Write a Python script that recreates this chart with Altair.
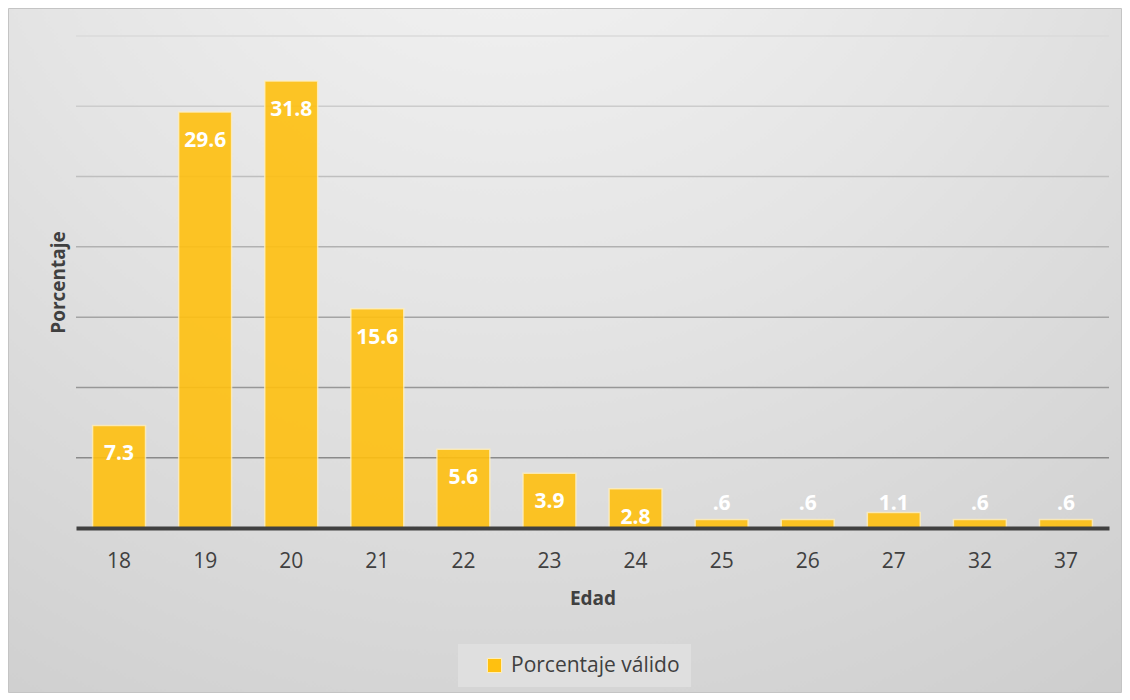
import altair as alt
import pandas as pd

# ---- data ----
edades = ["18", "19", "20", "21", "22", "23", "24", "25", "26", "27", "32", "37"]
porcentajes = [7.3, 29.6, 31.8, 15.6, 5.6, 3.9, 2.8, 0.6, 0.6, 1.1, 0.6, 0.6]
etiquetas = ["7.3", "29.6", "31.8", "15.6", "5.6", "3.9", "2.8", ".6", ".6", "1.1", ".6", ".6"]
serie = "Porcentaje válido"
grid_values = [5, 10, 15, 20, 25, 30, 35]

df = pd.DataFrame({"edad": edades, "pct": porcentajes, "etiqueta": etiquetas})
grid_df = pd.DataFrame({"v": grid_values})

W, H = 1033, 492
PAD_L, PAD_T, PAD_R, PAD_B = 68, 28, 13, 165
FONT = "Open Sans"
TXT = "#404040"

y_scale = alt.Scale(domain=[0, 35], nice=False)

background = alt.Chart(pd.DataFrame({"a": [0]})).mark_rect(
    fill={
        "gradient": "radial",
        "x1": 0.45, "y1": 0.0, "r1": 0.0,
        "x2": 0.45, "y2": 0.0, "r2": 1.05,
        "stops": [
            {"offset": 0.0, "color": "#f6f6f6"},
            {"offset": 0.45, "color": "#e4e4e4"},
            {"offset": 1.0, "color": "#cacaca"},
        ],
    },
    stroke="#c4c4c4",
    strokeWidth=1,
).encode(
    x=alt.value(-PAD_L + 0.5),
    x2=alt.value(W + PAD_R - 0.5),
    y=alt.value(-PAD_T + 0.5),
    y2=alt.value(H + PAD_B - 0.5),
)

grid = alt.Chart(grid_df).mark_rule(strokeWidth=1.5).encode(
    x=alt.value(0),
    x2=alt.value(W),
    y=alt.Y("v:Q", scale=y_scale),
    stroke=alt.Stroke("v:Q", scale=alt.Scale(domain=[5, 35], range=["#8a8a8a", "#dadada"]), legend=None),
)

x_enc = alt.X(
    "edad:N",
    sort=edades,
    scale=alt.Scale(paddingInner=0.385, paddingOuter=0.1925),
    axis=alt.Axis(
        title="Edad",
        labelAngle=0,
        labelFont=FONT,
        labelFontSize=21,
        labelColor=TXT,
        labelPadding=22,
        ticks=False,
        domainColor=TXT,
        domainWidth=4,
        grid=False,
        titleFont=FONT,
        titleFontSize=19,
        titleFontWeight="bold",
        titleColor=TXT,
        titlePadding=18,
        zindex=1,
    ),
)

y_enc = alt.Y(
    "pct:Q",
    scale=y_scale,
    axis=alt.Axis(
        title="Porcentaje",
        labels=False,
        ticks=False,
        domain=False,
        grid=False,
        titleFont=FONT,
        titleFontSize=19,
        titleFontWeight="bold",
        titleColor=TXT,
        titlePadding=8,
        zindex=1,
    ),
)

bars = alt.Chart(df).mark_bar(
    opacity=0.9,
    stroke="#fff0c0",
    strokeWidth=1.5,
    strokeOpacity=0.85,
).encode(
    x=x_enc,
    y=y_enc,
    color=alt.Color(
        "serie:N",
        scale=alt.Scale(domain=[serie], range=["#ffc010"]),
        legend=alt.Legend(
            title=None,
            orient="none",
            legendX=382,
            legendY=608,
            labelFont=FONT,
            labelFontSize=21,
            labelColor=TXT,
            labelLimit=400,
            symbolType="square",
            symbolSize=200,
            symbolStrokeColor="#fff0c0",
            symbolStrokeWidth=1,
            symbolOpacity=1,
            fillColor="#dfdfdf",
            padding=11,
            symbolOffset=15,
            labelOffset=6,
        ),
    ),
).transform_calculate(serie=f"'{serie}'")

labels_big = alt.Chart(df).transform_filter("datum.pct >= 2").mark_text(
    font=FONT, fontSize=21, fontWeight="bold", color="white", baseline="alphabetic", dy=35
).encode(
    x=alt.X("edad:N", sort=edades),
    y=alt.Y("pct:Q", scale=y_scale),
    text="etiqueta:N",
)

labels_small = alt.Chart(df).transform_filter("datum.pct < 2").mark_text(
    font=FONT, fontSize=21, fontWeight="bold", color="white", baseline="alphabetic", dy=-18
).encode(
    x=alt.X("edad:N", sort=edades),
    y=alt.datum(0),
    text="etiqueta:N",
)

chart = alt.layer(background, grid, bars, labels_big, labels_small).properties(
    width=W,
    height=H,
    autosize=alt.AutoSizeParams(type="none"),
    padding={"left": PAD_L, "top": PAD_T, "right": PAD_R, "bottom": PAD_B},
).configure_view(stroke=None)

chart.save("out.html", embed_options={"renderer": "svg", "actions": False})
